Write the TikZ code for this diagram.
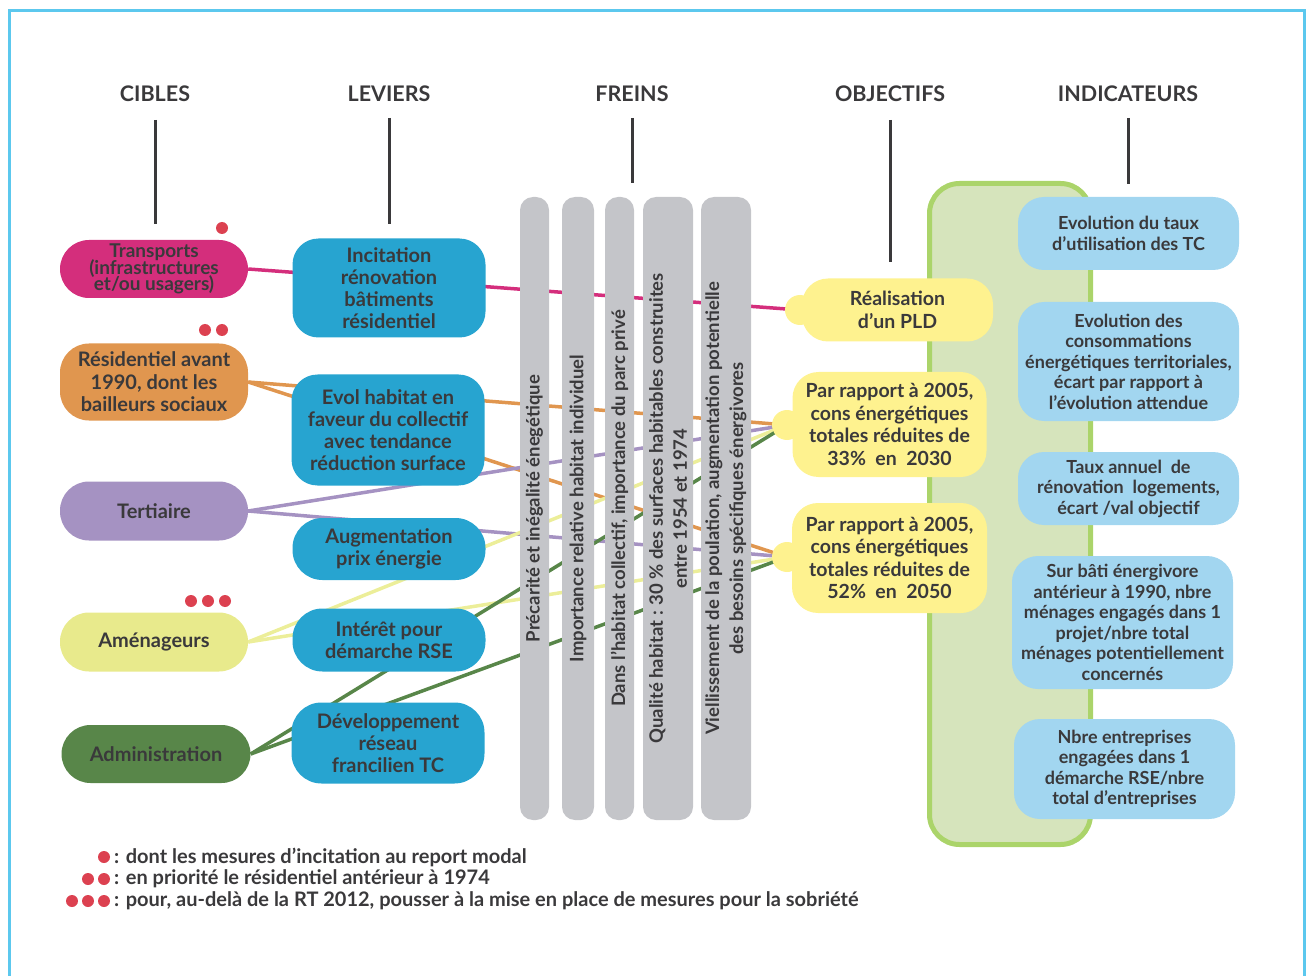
\documentclass[tikz,border=0pt]{standalone}
\usepackage{fontspec}
\setmainfont{Lato}
\usetikzlibrary{calc}
\definecolor{txt}{HTML}{3A393B}
\definecolor{framec}{HTML}{5CC8EE}
\definecolor{cTrans}{HTML}{D42E7C}
\definecolor{cRes}{HTML}{E0964F}
\definecolor{cTert}{HTML}{A592C2}
\definecolor{cAmen}{HTML}{E8EA8C}
\definecolor{cAdmin}{HTML}{588649}
\definecolor{cBlue}{HTML}{27A4D0}
\definecolor{cGrey}{HTML}{C4C5C9}
\definecolor{cYel}{HTML}{FEF28F}
\definecolor{cPanel}{HTML}{D6E4BC}
\definecolor{cPanelB}{HTML}{ABD46A}
\definecolor{cLBlue}{HTML}{A2D6F0}
\definecolor{cDot}{HTML}{DC4150}
\definecolor{lAmen}{HTML}{ECEE99}
\newcommand\mytightlines{\lineskiplimit=-20pt\relax\lineskip=0pt\relax}
\pgfdeclarelayer{bg}
\pgfsetlayers{bg,main}
\begin{document}
\begin{tikzpicture}[x=1pt,y=-1pt,
  hdr/.style={text=txt,font=\bfseries\fontsize{21.5}{24}\selectfont,inner sep=0},
  hl/.style={draw=txt,line width=3},
  cible/.style={rectangle,rounded corners=29,minimum width=188,minimum height=58,text=txt,
    font=\bfseries\fontsize{20}{22.5}\selectfont,align=center,inner sep=0},
  lev/.style={rectangle,rounded corners=26,fill=cBlue,minimum width=193,text=txt,
    font=\bfseries\fontsize{20}{22}\selectfont,align=center,inner sep=0},
  bar/.style={rectangle,rotate=90,fill=cGrey,rounded corners=13,minimum width=623,text=txt,
    font=\bfseries\fontsize{18.5}{24}\selectfont,align=center,inner sep=0},
  obj/.style={rectangle,rounded corners=26,fill=cYel,text=txt,
    font=\bfseries\fontsize{19.5}{22.5}\selectfont,align=center,inner sep=0},
  bump/.style={circle,fill=cYel,minimum size=30,inner sep=0},
  ind/.style={rectangle,rounded corners=26,fill=cLBlue,text=txt,
    font=\bfseries\fontsize{18}{20.5}\selectfont,align=center,inner sep=0},
  dotn/.style={circle,fill=cDot,minimum size=12,inner sep=0},
  leg/.style={anchor=west,text=txt,font=\bfseries\fontsize{20}{22}\selectfont,inner sep=0},
  ln/.style={line width=3.5}
]
\useasboundingbox (0,0) rectangle (1307,976);
\draw[framec,line width=3] (9.5,976) -- (9.5,11) -- (1304.5,11) -- (1304.5,976);

% headers
\node[hdr] (h1) at (155,94) {CIBLES};
\node[hdr] (h2) at (389,94) {LEVIERS};
\node[hdr] (h3) at (632,94) {FREINS};
\node[hdr] (h4) at (890,94) {OBJECTIFS};
\node[hdr] (h5) at (1128,94) {INDICATEURS};

% cibles
\node[cible,fill=cTrans,font={\bfseries\fontsize{19}{16.5}\selectfont\mytightlines}] (c1) at (154,269) {Transports\\(infrastructures\\et/ou usagers)};
\node[cible,fill=cRes,minimum height=77] (c2) at (154,382) {Résidentiel avant\\1990, dont les\\bailleurs sociaux};
\node[cible,fill=cTert,minimum height=59] (c3) at (154,511) {Tertiaire};
\node[cible,fill=cAmen,minimum height=59] (c4) at (154,642) {Aménageurs};
\node[cible,fill=cAdmin,minimum height=58,minimum width=189] (c5) at (156,754) {Administration};

% red dots
\node[dotn] (d1) at (222,228) {};
\node[dotn] (d2a) at (205,330) {};
\node[dotn] (d2b) at (222,330) {};
\node[dotn] (d3a) at (191,601) {};
\node[dotn] (d3b) at (208,601) {};
\node[dotn] (d3c) at (225,601) {};

% leviers
\node[lev,minimum height=99] (l1) at (389,288) {Incitation\\rénovation\\bâtiments\\résidentiel};
\node[lev,minimum height=111] (l2) at (388,430) {Evol habitat en\\faveur du collectif\\avec tendance\\réduction surface};
\node[lev,minimum height=62,rounded corners=30] (l3) at (389,549) {Augmentation\\prix énergie};
\node[lev,minimum height=63,rounded corners=30] (l4) at (389,640) {Intérêt pour\\démarche RSE};
\node[lev,minimum height=81,rounded corners=30] (l5) at (388,743) {Développement\\réseau\\francilien TC};

% freins
\node[bar,minimum height=29] (f1) at (534.5,508.5) {Précarité et inégalité énegétique};
\node[bar,minimum height=32] (f2) at (578,508.5) {Importance relative habitat individuel};
\node[bar,minimum height=29] (f3) at (619.5,508.5) {Dans l'habitat collectif, importance du parc privé};
\node[bar,minimum height=50] (f4) at (668,508.5) {Qualité habitat : 30 \% des surfaces habitables construites\\entre 1954 et 1974};
\node[bar,minimum height=50] (f5) at (726,508.5) {Viellissement de la poulation, augmentation potentielle\\des besoins spécifiques énergivores};

% indicateurs panel
\node[rectangle,rounded corners=30,draw=cPanelB,fill=cPanel,line width=5,minimum width=161,minimum height=661,inner sep=0] (pn) at (1010,514) {};

% objectifs
\node[bump] (o1b) at (800,310) {};
\node[obj,minimum width=191,minimum height=63] (o1) at (897.5,310) {Réalisation\\d'un PLD};
\node[bump] (o2b) at (787,425) {};
\node[obj,minimum width=194,minimum height=105] (o2) at (889.5,424.5) {Par rapport à 2005,\\cons énergétiques\\totales réduites de\\33\%\ \ en\ \ 2030};
\node[bump] (o3b) at (787,557) {};
\node[obj,minimum width=195,minimum height=110] (o3) at (889.5,558) {Par rapport à 2005,\\cons énergétiques\\totales réduites de\\52\%\ \ en\ \ 2050};

% indicateurs
\node[ind,minimum width=221,minimum height=73] (i1) at (1128.5,233.5) {Evolution du taux\\d'utilisation des TC};
\node[ind,minimum width=221,minimum height=119] (i2) at (1128.5,361.5) {Evolution des\\consommations\\énergétiques territoriales,\\écart par rapport à\\l'évolution attendue};
\node[ind,minimum width=221,minimum height=73] (i3) at (1128.5,488.5) {Taux annuel\ \ de\\rénovation\ \ logements,\\écart /val objectif};
\node[ind,minimum width=221,minimum height=133] (i4) at (1122.5,622.5) {Sur bâti énergivore\\antérieur à 1990, nbre\\ménages engagés dans 1\\projet/nbre total\\ménages potentiellement\\concernés};
\node[ind,minimum width=221,minimum height=100] (i5) at (1124.5,769) {Nbre entreprises\\engagées dans 1\\démarche RSE/nbre\\total d'entreprises};

% header lines
\draw[hl] (h1.south |- 0,120) -- (h1.south |- 0,224);
\draw[hl] (h2.south |- 0,118) -- (h2.south |- 0,224);
\draw[hl] (h3.south |- 0,118) -- (h3.south |- 0,183);
\draw[hl] (h4.south |- 0,120) -- (h4.south |- 0,262);
\draw[hl] (h5.south |- 0,118) -- (h5.south |- 0,184);

% legend
\node[dotn] (g1) at (104,857) {};
\node[dotn] (g2a) at (88,879) {};
\node[dotn] (g2b) at (104,879) {};
\node[dotn] (g3a) at (72,901) {};
\node[dotn] (g3b) at (88,901) {};
\node[dotn] (g3c) at (104,901) {};
\node[leg] (t1) at (114,857) {: dont les mesures d’incitation au report modal};
\node[leg] (t2) at (114,879) {: en priorité le résidentiel antérieur à 1974};
\node[leg] (t3) at (114,901) {: pour, au-delà de la RT 2012, pousser à la mise en place de mesures pour la sobriété};

% connectors
\begin{pgfonlayer}{bg}
\draw[ln,cTrans] (c1.east) -- (o1b.center);
\draw[ln,cRes] (c2.east) -- (o2b.center);
\draw[ln,cRes] (c2.east) -- (o3b.center);
\draw[ln,cTert] (c3.east) -- (o2b.center);
\draw[ln,cTert] (c3.east) -- (o3b.center);
\draw[ln,lAmen] (c4.east) -- (o2b.center);
\draw[ln,lAmen] (c4.east) -- (o3b.center);
\draw[ln,cAdmin] (c5.east) -- (o2b.center);
\draw[ln,cAdmin] (c5.east) -- (o3b.center);
\end{pgfonlayer}
\end{tikzpicture}
\end{document}
